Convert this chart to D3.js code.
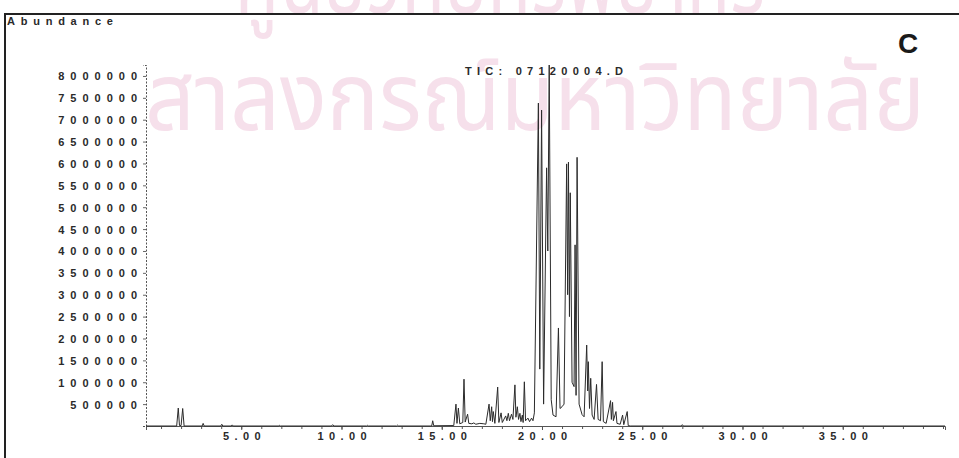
<!DOCTYPE html>
<html>
<head>
<meta charset="utf-8">
<script src="https://cdn.jsdelivr.net/npm/d3@7"></script>
<style>
  html, body { margin: 0; padding: 0; background: #fff; }
  svg { display: block; }
</style>
</head>
<body>
<div id="chart"></div>
<script>
// ---- data ----
const yTickValues = [500000, 1000000, 1500000, 2000000, 2500000, 3000000, 3500000, 4000000,
                     4500000, 5000000, 5500000, 6000000, 6500000, 7000000, 7500000, 8000000];
const xTickValues = [5, 10, 15, 20, 25, 30, 35];
const titleText = "TIC: 07120004.D";
const yAxisTitle = "Abundance";
const panelLabel = "C";
const watermarkTop = "ศูนย์วิทยทรัพยากร";
const watermarkBottom = "สาลงกรณ์มหาวิทยาลัย";

// retention time (min)
const retentionTime = [
  0.25, 1.78, 1.86, 1.92, 2.00, 2.08, 2.15, 3.05, 3.10, 3.15, 3.98, 4.03, 4.08,
  4.50, 4.55, 4.60, 6.85, 6.90, 6.95, 9.50, 9.56, 9.62, 11.25, 11.30, 11.35,
  12.75, 12.80, 12.85, 14.50, 14.55, 14.60, 15.60, 15.71, 15.76, 15.83, 15.90,
  16.05, 16.11, 16.17, 16.29, 16.35, 16.50, 16.60, 16.70, 16.90, 17.10, 17.20,
  17.36, 17.42, 17.49, 17.53, 17.57, 17.65, 17.79, 17.85, 17.96, 18.02, 18.19,
  18.25, 18.32, 18.38, 18.48, 18.55, 18.65, 18.70, 18.77, 18.83, 18.90, 18.95,
  19.02, 19.06, 19.12, 19.18, 19.30, 19.38, 19.48, 19.55, 19.62, 19.82, 19.89,
  19.98, 20.08, 20.23, 20.29, 20.36, 20.46, 20.55, 20.70, 20.82, 20.90, 21.00,
  21.10, 21.23, 21.28, 21.32, 21.37, 21.41, 21.50, 21.60, 21.65, 21.70, 21.75,
  21.85, 22.00, 22.10, 22.23, 22.28, 22.31, 22.37, 22.43, 22.50, 22.60, 22.72,
  22.80, 22.92, 23.00, 23.06, 23.20, 23.42, 23.46, 23.52, 23.56, 23.69, 23.74,
  23.90, 24.02, 24.08, 24.25, 24.30, 24.40, 26.95, 27.00, 27.05, 40.10
];
// abundance (counts)
const abundance = [
  0, 0, 410000, 10000, 10000, 400000, 0, 0, 60000, 0, 0, 40000, 0,
  0, 25000, 0, 0, 15000, 0, 0, 30000, 0, 0, 15000, 0,
  0, 20000, 0, 0, 120000, 5000, 10000, 500000, 60000, 410000, 50000,
  80000, 1070000, 90000, 270000, 60000, 50000, 70000, 40000, 60000, 50000, 40000,
  500000, 120000, 440000, 100000, 330000, 60000, 890000, 80000, 300000, 80000, 230000,
  120000, 290000, 120000, 270000, 150000, 940000, 200000, 440000, 150000, 290000, 100000,
  250000, 80000, 1010000, 120000, 180000, 100000, 180000, 120000, 300000, 7380000, 1300000,
  7220000, 500000, 5900000, 4000000, 8250000, 600000, 250000, 210000, 2240000, 400000, 440000,
  500000, 5990000, 3000000, 6030000, 2500000, 5330000, 1000000, 900000, 4140000, 700000, 6140000,
  500000, 260000, 210000, 1850000, 800000, 1470000, 400000, 1090000, 250000, 150000, 950000,
  150000, 120000, 1470000, 100000, 60000, 580000, 150000, 540000, 120000, 330000, 60000,
  40000, 250000, 30000, 330000, 10000, 0, 0, 30000, 0, 0
];

// ---- drawing ----
const W = 959, H = 458;
const svg = d3.select("#chart").append("svg").attr("width", W).attr("height", H)
  .style("font-family", "'Liberation Sans', Arial, sans-serif");

// watermark
const wm = svg.append("g").attr("fill", "#f6e0eb")
  .style("font-family", "'Noto Sans Thai', 'Noto Sans', 'DejaVu Sans', sans-serif");
wm.append("text").attr("x", 235).attr("y", 13).attr("font-size", 96)
  .attr("textLength", 530).attr("lengthAdjust", "spacingAndGlyphs").text(watermarkTop);
wm.append("text").attr("x", 145).attr("y", 130).attr("font-size", 94)
  .attr("textLength", 780).attr("lengthAdjust", "spacingAndGlyphs").text(watermarkBottom);

// frame
svg.append("line").attr("x1", 5).attr("x2", W).attr("y1", 14).attr("y2", 14)
  .attr("stroke", "#222").attr("stroke-width", 2);
svg.append("line").attr("x1", 5).attr("x2", 5).attr("y1", 13).attr("y2", H)
  .attr("stroke", "#222").attr("stroke-width", 2);

const x = d3.scaleLinear().domain([0.25, 40.1]).range([146, 945]);
const y = d3.scaleLinear().domain([0, 8250000]).range([426, 65]);

const ls = 6.0;
// y axis
const yAxis = svg.append("g").attr("transform", `translate(${x(0.25)},0)`)
  .call(d3.axisLeft(y).tickValues(yTickValues).tickSize(3).tickPadding(4)
    .tickFormat(d3.format("d")));
yAxis.select(".domain").attr("stroke", "#555").attr("stroke-dasharray", "2,1.5");
yAxis.selectAll(".tick line").attr("stroke", "#666");
yAxis.selectAll(".tick text")
  .attr("font-size", 11).attr("font-weight", "bold").attr("fill", "#2a2a2a")
  .attr("letter-spacing", ls).attr("x", -9 + ls).attr("dy", "0.36em");

// x axis minor ticks
const minor = svg.append("g").attr("transform", `translate(0,${y(0)})`)
  .call(d3.axisBottom(x).tickValues(d3.range(1, 41)).tickSize(3).tickFormat(""));
minor.select(".domain").remove();
minor.selectAll(".tick line").attr("stroke", "#555");

const xAxis = svg.append("g").attr("transform", `translate(0,${y(0)})`)
  .call(d3.axisBottom(x).tickValues(xTickValues).tickSize(4).tickPadding(2)
    .tickFormat(d3.format(".2f")));
xAxis.select(".domain").attr("stroke", "#555").attr("stroke-width", 1);
xAxis.selectAll(".tick line").attr("stroke", "#555");
const lsx = 5.4;
xAxis.selectAll(".tick text")
  .attr("font-size", 11).attr("font-weight", "bold").attr("fill", "#2a2a2a")
  .attr("letter-spacing", lsx).attr("x", lsx / 2);

// chromatogram trace
const pts = retentionTime.map((t, i) => [t, abundance[i]]);
svg.append("path").datum(pts)
  .attr("fill", "none").attr("stroke", "#2b2b2b").attr("stroke-width", 1)
  .attr("stroke-linejoin", "miter")
  .attr("d", d3.line().x(d => x(d[0])).y(d => y(d[1])));

// texts
svg.append("text").attr("x", 7).attr("y", 25).attr("font-size", 11).attr("font-weight", "bold")
  .attr("fill", "#2a2a2a").attr("letter-spacing", 5.76).text(yAxisTitle);
svg.append("text").attr("x", 465).attr("y", 75).attr("font-size", 11).attr("font-weight", "bold")
  .attr("fill", "#2a2a2a").attr("letter-spacing", 5.26).style("white-space", "pre").text(titleText);
svg.append("text").attr("x", 908).attr("y", 53).attr("text-anchor", "middle")
  .attr("font-size", 28).attr("font-weight", "bold").attr("fill", "#1a1a1a").text(panelLabel);
</script>
</body>
</html>
